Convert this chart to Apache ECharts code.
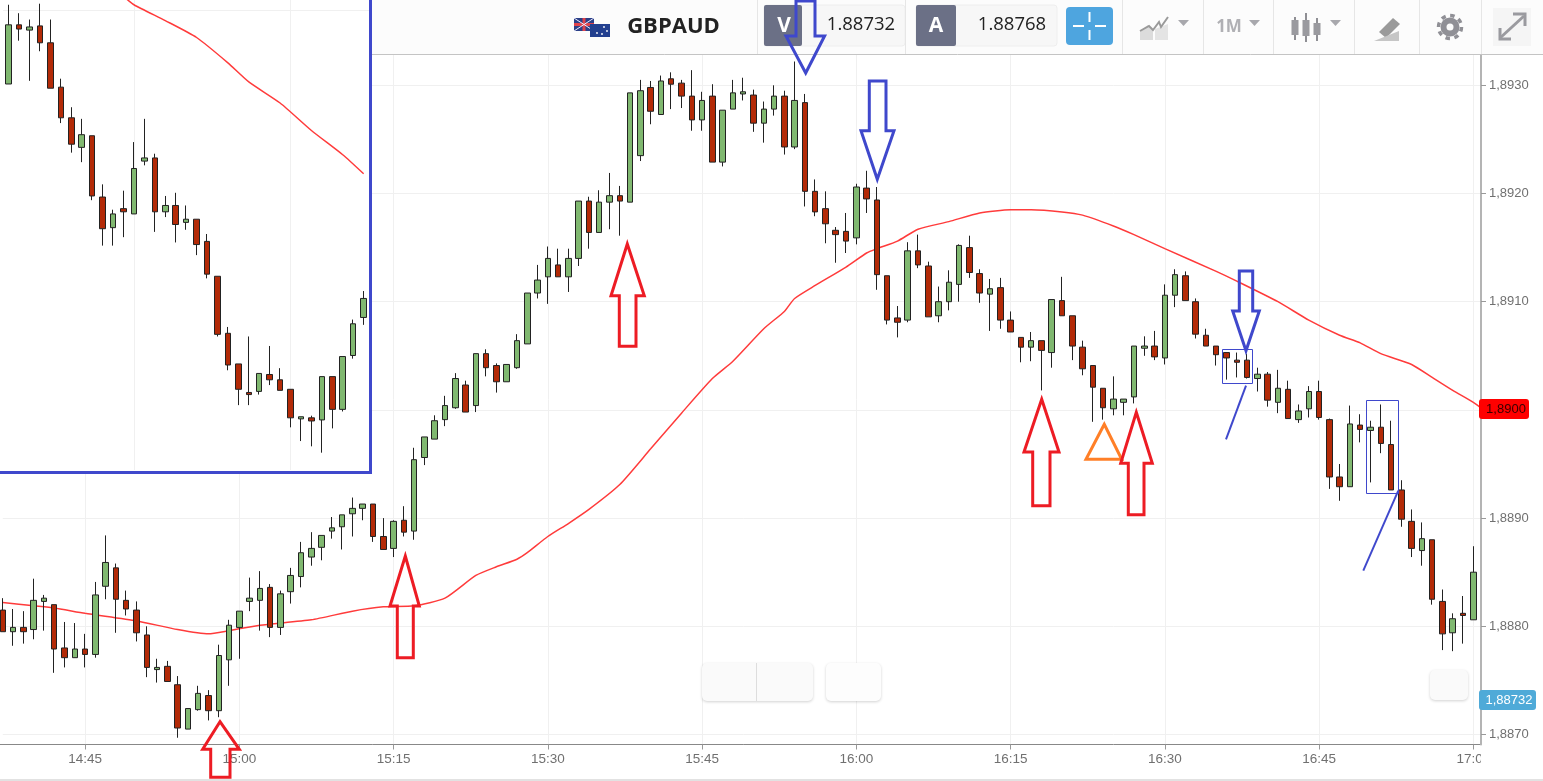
<!DOCTYPE html>
<html><head><meta charset="utf-8">
<style>html,body{margin:0;padding:0;background:#fff}#c{width:1543px;height:781px}</style>
<script src="https://cdn.jsdelivr.net/npm/echarts@6/dist/echarts.min.js"></script>
</head><body><div id="c"></div>
<script>
// ---- main chart: GBPAUD 1-minute candles, 14:37 .. 17:00 ----
const opens=[1.88815,1.88795,1.88799,1.88797,1.88823,1.88820,1.88780,1.88771,1.88779,1.88774,1.88837,1.88854,1.88824,1.88815,1.88792,1.88760,1.88763,1.88746,1.88705,1.88723,1.88736,1.88722,1.88769,1.88799,1.88823,1.88824,1.88836,1.88799,1.88832,1.88846,1.88864,1.88873,1.88888,1.88892,1.88904,1.88909,1.88913,1.88883,1.88872,1.88898,
1.88888,1.88956,1.88973,1.88991,1.89002,1.89023,1.89004,1.89052,1.89041,1.89026,1.89039,1.89061,1.89108,1.89123,1.89134,1.89123,1.89140,1.89193,1.89164,1.89192,1.89198,1.89192,1.89235,1.89298,1.89273,1.89306,1.89302,1.89290,1.89268,1.89290,1.89229,1.89278,1.89292,1.89291,1.89265,1.89278,1.89290,1.89243,1.89284,1.89202,
1.89186,1.89166,1.89165,1.89159,1.89205,1.89194,1.89124,1.89085,1.89083,1.89147,1.89133,1.89087,1.89100,1.89116,1.89150,1.89126,1.89107,1.89113,1.89083,1.89067,1.89058,1.89064,1.89053,1.89101,1.89087,1.89058,1.89041,1.89020,1.89001,1.89007,1.89012,1.89057,1.89059,1.89048,1.89106,1.89124,1.89100,1.89069,1.89059,1.89053,
1.89046,1.89046,1.89029,1.89033,1.89007,1.89019,1.88991,1.89001,1.89017,1.88991,1.88938,1.88929,1.88986,1.88981,1.88984,1.88968,1.88926,1.88897,1.88870,1.88880,1.88823,1.88794,1.88812,1.88806];
const closes=[1.88795,1.88799,1.88795,1.88824,1.88826,1.88779,1.88771,1.88779,1.88774,1.88829,1.88859,1.88825,1.88816,1.88794,1.88762,1.88762,1.88749,1.88706,1.88724,1.88738,1.88722,1.88773,1.88801,1.88814,1.88826,1.88835,1.88799,1.88830,1.88847,1.88868,1.88872,1.88884,1.88891,1.88903,1.88909,1.88913,1.88883,1.88871,1.88897,1.88887,
1.88954,1.88975,1.88990,1.89004,1.89029,1.88998,1.89052,1.89039,1.89026,1.89042,1.89064,1.89108,1.89120,1.89140,1.89123,1.89140,1.89193,1.89164,1.89192,1.89198,1.89193,1.89293,1.89295,1.89276,1.89304,1.89301,1.89290,1.89268,1.89286,1.89229,1.89277,1.89293,1.89294,1.89265,1.89278,1.89290,1.89243,1.89286,1.89202,1.89183,
1.89172,1.89162,1.89156,1.89206,1.89195,1.89125,1.89083,1.89081,1.89147,1.89134,1.89086,1.89100,1.89118,1.89152,1.89127,1.89108,1.89112,1.89083,1.89072,1.89058,1.89064,1.89055,1.89102,1.89087,1.89059,1.89038,1.89021,1.89002,1.89010,1.89010,1.89059,1.89059,1.89049,1.89106,1.89125,1.89101,1.89070,1.89059,1.89051,1.89048,
1.89044,1.89030,1.89033,1.89009,1.89020,1.88992,1.88999,1.89017,1.88993,1.88938,1.88929,1.88987,1.88982,1.88984,1.88969,1.88926,1.88899,1.88872,1.88881,1.88825,1.88793,1.88807,1.88810,1.88850];
const lows=[1.88795,1.88782,1.88784,1.88788,1.88796,1.88757,1.88762,1.88771,1.88762,1.88771,1.88825,1.88794,1.88810,1.88786,1.88753,1.88748,1.88749,1.88697,1.88705,1.88722,1.88713,1.88716,1.88745,1.88770,1.88814,1.88796,1.88790,1.88792,1.88821,1.88836,1.88856,1.88861,1.88881,1.88871,1.88883,1.88898,1.88878,1.88871,1.88864,1.88883,
1.88880,1.88949,1.88973,1.88985,1.89001,1.88998,1.88998,1.89031,1.89016,1.89026,1.89038,1.89061,1.89103,1.89098,1.89123,1.89109,1.89133,1.89149,1.89164,1.89167,1.89161,1.89192,1.89230,1.89264,1.89273,1.89278,1.89279,1.89258,1.89258,1.89229,1.89225,1.89278,1.89286,1.89257,1.89247,1.89272,1.89236,1.89241,1.89188,1.89179,
1.89154,1.89136,1.89145,1.89153,1.89182,1.89111,1.89079,1.89067,1.89081,1.89131,1.89086,1.89081,1.89092,1.89100,1.89122,1.89099,1.89073,1.89075,1.89072,1.89044,1.89045,1.89018,1.89039,1.89087,1.89046,1.89032,1.88989,1.88991,1.88995,1.88995,1.89006,1.89050,1.89046,1.89042,1.89095,1.89101,1.89066,1.89059,1.89041,1.89028,
1.89030,1.89029,1.89017,1.89003,1.88997,1.88992,1.88988,1.88993,1.88991,1.88927,1.88916,1.88929,1.88970,1.88933,1.88960,1.88926,1.88892,1.88864,1.88856,1.88820,1.88778,1.88777,1.88784,1.88806];
const highs=[1.88826,1.88816,1.88814,1.88844,1.88829,1.88820,1.88804,1.88803,1.88793,1.88841,1.88884,1.88858,1.88833,1.88823,1.88800,1.88770,1.88768,1.88754,1.88724,1.88745,1.88741,1.88783,1.88806,1.88814,1.88845,1.88851,1.88839,1.88833,1.88854,1.88878,1.88887,1.88884,1.88901,1.88903,1.88919,1.88913,1.88913,1.88900,1.88898,1.88911,
1.88965,1.88975,1.88995,1.89013,1.89034,1.89027,1.89052,1.89056,1.89043,1.89042,1.89070,1.89108,1.89134,1.89151,1.89149,1.89149,1.89193,1.89197,1.89203,1.89219,1.89207,1.89293,1.89305,1.89304,1.89309,1.89312,1.89305,1.89314,1.89294,1.89301,1.89277,1.89305,1.89307,1.89296,1.89285,1.89300,1.89295,1.89322,1.89292,1.89213,
1.89202,1.89169,1.89182,1.89209,1.89221,1.89206,1.89124,1.89096,1.89155,1.89162,1.89137,1.89114,1.89129,1.89153,1.89161,1.89130,1.89121,1.89122,1.89091,1.89067,1.89072,1.89064,1.89102,1.89123,1.89087,1.89064,1.89041,1.89020,1.89031,1.89010,1.89059,1.89068,1.89073,1.89116,1.89130,1.89128,1.89103,1.89075,1.89059,1.89053,
1.89053,1.89052,1.89039,1.89035,1.89037,1.89027,1.89005,1.89022,1.89027,1.88992,1.88950,1.89004,1.88996,1.88990,1.89005,1.88990,1.88935,1.88908,1.88896,1.88880,1.88834,1.88812,1.88828,1.88874];
// moving average, read at these minutes
const maTimes=['14:37','14:40','14:42','14:45','14:50','14:54','14:57','14:59','15:02','15:07','15:11','15:14','15:17','15:20','15:23','15:25','15:27','15:28','15:30','15:32','15:34','15:37','15:40','15:43','15:46','15:48','15:51','15:53','15:54','15:56','15:59','16:01','16:02','16:04','16:06','16:09','16:12','16:15','16:17','16:20','16:22','16:25','16:27','16:30','16:35','16:37','16:41','16:44','16:47','16:49','16:51','16:54','16:56','16:58','17:00','17:01'];
const maValues=[1.88822,1.88819,1.88817,1.88812,1.88805,1.88797,1.88793,1.88796,1.88801,1.88806,1.88814,1.88818,1.88819,1.88826,1.88847,1.88855,1.88862,1.88868,1.88883,1.88895,1.88908,1.88931,1.88964,1.88997,1.89029,1.89045,1.89075,1.89091,1.89103,1.89115,1.89132,1.89145,1.89149,1.89156,1.89167,1.89174,1.89182,1.89185,1.89185,1.89183,1.89180,1.89170,1.89162,1.89149,1.89128,1.89119,1.89100,1.89083,1.89069,1.89062,1.89052,1.89042,1.89030,1.89018,1.89007,1.89000];
const yTicks=[1.893,1.892,1.891,1.89,1.889,1.888,1.887];
// ---- inset chart ----
const insetOpens=[1.89930,1.89986,1.89981,1.89985,1.89969,1.89927,1.89898,1.89870,1.89881,1.89823,1.89794,1.89812,1.89807,1.89857,1.89860,1.89809,1.89815,1.89799,1.89802,1.89781,1.89748,1.89694,1.89665,1.89638,1.89639,1.89655,1.89650,1.89641,1.89613,1.89614,1.89612,1.89653,1.89622,1.89673,1.89709];
const insetCloses=[1.89986,1.89982,1.89984,1.89969,1.89926,1.89898,1.89873,1.89882,1.89824,1.89793,1.89807,1.89809,1.89850,1.89860,1.89809,1.89815,1.89797,1.89802,1.89778,1.89750,1.89693,1.89664,1.89641,1.89636,1.89656,1.89650,1.89640,1.89614,1.89615,1.89611,1.89653,1.89622,1.89672,1.89703,1.89727];
const insetLows=[1.89930,1.89971,1.89933,1.89961,1.89926,1.89893,1.89865,1.89856,1.89820,1.89777,1.89777,1.89785,1.89807,1.89853,1.89790,1.89804,1.89780,1.89792,1.89768,1.89746,1.89691,1.89659,1.89626,1.89626,1.89636,1.89645,1.89640,1.89605,1.89592,1.89587,1.89581,1.89604,1.89620,1.89670,1.89702];
const insetHighs=[1.90005,1.89997,1.89991,1.90006,1.89991,1.89935,1.89908,1.89897,1.89881,1.89835,1.89811,1.89829,1.89875,1.89897,1.89864,1.89824,1.89827,1.89815,1.89802,1.89788,1.89748,1.89700,1.89665,1.89691,1.89656,1.89682,1.89661,1.89641,1.89615,1.89616,1.89653,1.89653,1.89672,1.89707,1.89734];
const insetMaSlots=[11,12,15,18,21,23,26,29,32,34];
const insetMaValues=[1.90013,1.90005,1.89990,1.89974,1.89950,1.89932,1.89912,1.89886,1.89863,1.89845];
const insetLevels=[1.900,1.899,1.898,1.897,1.896];
const insetVerticalSlots=[12,27];

// ---- build ----
const timeLabels=[];
for(let m=14*60+37;m<=17*60+1;m++){timeLabels.push(Math.floor(m/60)+':'+String(m%60).padStart(2,'0'));}
const isQuarter=(i,l)=>l.endsWith(':00')||l.endsWith(':15')||l.endsWith(':30')||l.endsWith(':45');
const empty=['-','-','-','-'];
const mainCandles=[...opens.map((o,i)=>[o,closes[i],lows[i],highs[i]]),empty];
const maData=maTimes.map((t,i)=>[timeLabels.indexOf(t),maValues[i]]);
const insetSlots=insetOpens.map((_,i)=>String(i));
const insetCandles=insetOpens.map((o,i)=>[o,insetCloses[i],insetLows[i],insetHighs[i]]);
const insetMa=insetMaSlots.map((s,i)=>[s,insetMaValues[i]]);

const UP='#80b870',DOWN='#b32a07',EDGE='#222222',RED='#ed1c24',BLUE='#3f48cc',ORANGE='#ff7f27',GREY='#a8a8ad';
const candleStyle={color:UP,color0:DOWN,borderColor:EDGE,borderColor0:EDGE,borderWidth:1};

// ---- page furniture and hand-drawn annotations (screen positions) ----
const g=[];
const poly=(pts,stroke,w,z=20,closed=true)=>g.push({type:closed?'polygon':'polyline',z,silent:true,shape:{points:pts},style:{fill:closed?'rgba(0,0,0,0)':null,stroke,lineWidth:w,lineJoin:'miter'}});
const upArrow=(cx,tip,l,r,base,sl,sr,bot)=>poly([[cx,tip],[r,base],[sr,base],[sr,bot],[sl,bot],[sl,base],[l,base]],RED,3);
const downArrow=(cx,tip,l,r,base,sl,sr,top,color)=>poly([[cx,tip],[r,base],[sr,base],[sr,top],[sl,top],[sl,base],[l,base]],color,3);
const rect=(x,y,w,h,fill,z=6,r=0,extra={})=>g.push({type:'rect',z,silent:true,shape:{x,y,width:w,height:h,r},style:Object.assign({fill},extra)});
const text=(x,y,t,font,fill,z=8,align='center')=>g.push({type:'text',z,silent:true,x,y,style:{text:t,font,fill,textAlign:align,textVerticalAlign:'middle'}});
const line=(x1,y1,x2,y2,stroke,w=1,z=7)=>g.push({type:'line',z,silent:true,shape:{x1,y1,x2,y2},style:{stroke,lineWidth:w}});

// right panel and footer
rect(1481,55,62,726,'#ffffff',1);
rect(0,779,1543,2,'#e2e2e2',6);
line(0,744.5,3,744.5,'#888',1,3);
// header
rect(372,0,1171,54,'#fcfcfc',6);
line(372,54.5,1543,54.5,'#c4c4c4',1);
[757,905,1122,1203,1273,1354,1419,1481].forEach(x=>line(x+.5,0,x+.5,54,'#e6e6e6',1));
// flag
rect(574,18,20,13,'#2b3f87',7);line(574,24.5,594,24.5,'#e0434b',3,8);line(584,18,584,31,'#e0434b',3,8);line(574,18,594,31,'#eef',1,8);line(594,18,574,31,'#eef',1,8);
rect(590,24,20,13,'#23408f',8);
[[597,33],[604,27],[607,31],[602,34]].forEach(([cx,cy])=>g.push({type:'circle',z:9,silent:true,shape:{cx,cy,r:.9},style:{fill:'#fff'}}));
text(673.5,27,'GBPAUD','bold 22px "Open Sans"','#222');
// quotes
rect(764,5,141,41,'#f7f7f7',6,3,{stroke:'#eeeeee'});rect(764,5,38,41,'#6b7086',7,2);
text(784,26,'V','bold 21px "Open Sans"','#fff');text(861,25,'1.88732','18.5px "Open Sans"','#222');
rect(916,5,141,41,'#f7f7f7',6,3,{stroke:'#eeeeee'});rect(916,5,40,41,'#6b7086',7,2);
text(936,26,'A','bold 21px "Open Sans"','#fff');text(1012,25,'1.88768','18.5px "Open Sans"','#222');
// crosshair button
rect(1066,7,47,38,'#4ea5df',7,4);
line(1089.5,12,1089.5,22,'#fff',2,8);line(1089.5,30,1089.5,40,'#fff',2,8);line(1073,26,1084,26,'#fff',2,8);line(1095,26,1106,26,'#fff',2,8);
// toolbar icons
g.push({type:'polygon',z:8,silent:true,shape:{points:[[1140,40],[1140,31],[1148,25],[1153,29],[1153,40]]},style:{fill:'#dcdcdc'}});
g.push({type:'polygon',z:8,silent:true,shape:{points:[[1155,40],[1155,29],[1168,24],[1168,40]]},style:{fill:'#e4e4e4'}});
poly([[1140,31],[1149,26],[1153,30],[1159,22],[1161,27],[1168,17]],'#9a9a9a',2,8,false);
const tri=(x)=>g.push({type:'polygon',z:8,silent:true,shape:{points:[[x,20],[x+11,20],[x+5.5,26]]},style:{fill:GREY}});
tri(1178);tri(1249);tri(1330);
text(1229,27,'1M','bold 17px "Open Sans"','#b0b0b4');
[[1295,17,40,20,15],[1306,13,42,20,16],[1317,18,41,23,12]].forEach(([x,t,b,top,h])=>{line(x,t,x,b,'#8f8f94',2,8);rect(x-3.5,top,7,h,'#9a9a9f',8);});
g.push({type:'polygon',z:8,silent:true,shape:{points:[[1379,32],[1393,18],[1400,24],[1386,38]]},style:{fill:'#9a9a9a'}});
g.push({type:'polygon',z:8,silent:true,shape:{points:[[1374,41],[1399,41],[1399,31]]},style:{fill:'#c6c6c6'}});
g.push({type:'circle',z:8,silent:true,shape:{cx:1450,cy:27,r:9.5},style:{fill:'#909096'}});
g.push({type:'circle',z:8,silent:true,shape:{cx:1450,cy:27,r:11.5},style:{fill:'none',stroke:'#909096',lineWidth:3.5,lineDash:[4.5,4.5]}});
g.push({type:'circle',z:9,silent:true,shape:{cx:1450,cy:27,r:3.5},style:{fill:'#fcfcfc'}});
rect(1493,8,38,38,'#f5f5f5',7);
line(1500,38,1524,16,'#9a9a9f',3,8);poly([[1500,28],[1500,39],[1511,39]],'#9a9a9f',3,8,false);poly([[1513,14],[1525,14],[1525,26]],'#9a9a9f',3,8,false);
// zoom buttons on the chart
const shadow={shadowBlur:3,shadowColor:'rgba(0,0,0,.18)',shadowOffsetY:1};
rect(702,663,111,38,'#fafafa',3,5,shadow);line(756.5,663,756.5,701,'#dddddd',1,4);
rect(826,663,55,38,'#fdfdfd',3,5,shadow);rect(1430,670,38,30,'#fafafa',3,5,shadow);
// price tags
rect(1479,399,50,20,'#ff0000',9,3);text(1506,409.5,'1,8900','13px "Liberation Sans"','#3a0000',10);
rect(1479,690,57,20,'#4faad8',9,3);text(1509,700.5,'1,88732','13px "Liberation Sans"','#fff',10);
// inset frame
rect(0,0,369,471,'#ffffff',3);
poly([[370.5,-3],[370.5,472.5],[-3,472.5]],BLUE,3,12,false);
// annotations
upArrow(220,721.7,202.7,239.3,749.3,210.7,230,777.3);
upArrow(405.3,556,390,419.3,606,397.3,413.3,657.7);
upArrow(627.3,244,611,644.3,295.7,619.3,636,346.3);
upArrow(1041.7,399.3,1024,1059,452,1032.7,1050,505.7);
poly([[1104.3,424.3],[1086,459.3],[1121.7,459.3]],ORANGE,3);
upArrow(1136.3,412.3,1120.7,1152.3,463.3,1128.3,1144,514.7);
downArrow(805.7,73,786,824.6,36,796,815,1,BLUE);
downArrow(877.3,179.3,861,894,130.7,869.3,886,81,BLUE);
downArrow(1246,350.7,1232.7,1259.3,311,1239.3,1252.7,271,BLUE);
g.push({type:'rect',z:20,silent:true,shape:{x:1222.5,y:349.5,width:30,height:34},style:{fill:'none',stroke:BLUE,lineWidth:1}});
g.push({type:'rect',z:20,silent:true,shape:{x:1366.5,y:400.5,width:32,height:93},style:{fill:'none',stroke:BLUE,lineWidth:1}});
line(1246,385.7,1226,439.3,BLUE,2,20);
line(1398.3,490.7,1363.3,570.7,BLUE,2,20);

const chart=echarts.init(document.getElementById('c'),null,{renderer:'canvas'});
chart.setOption({
  animation:false,backgroundColor:'#ffffff',
  grid:[
    {left:2.8,width:1480.8,top:52.84,height:681.66},   // price scale: 1.8933 .. 1.8870
    {left:3.45,top:0,width:365.4,height:470},          // inset
    {left:2.8,width:1480.8,top:54.5,height:690}        // full plot frame: vertical grid lines and right edge
  ],
  xAxis:[
    {type:'category',gridIndex:0,data:timeLabels,boundaryGap:false,position:'bottom',offset:10,z:0,
     axisLine:{onZero:false,lineStyle:{color:'#888',width:1}},
     axisTick:{interval:isQuarter,length:5,lineStyle:{color:'#999'}},
     axisLabel:{interval:isQuarter,color:'#707070',fontFamily:'Liberation Sans',fontSize:13.5,margin:8,hideOverlap:false},
     splitLine:{show:false}},
    {type:'category',gridIndex:1,data:insetSlots,show:false},
    {type:'category',gridIndex:2,data:timeLabels,boundaryGap:false,position:'top',z:0,
     axisLine:{show:false},axisTick:{show:false},axisLabel:{show:false},
     splitLine:{show:true,interval:isQuarter,lineStyle:{color:'#f0f0f0',width:1}}}
  ],
  yAxis:[
    {type:'value',gridIndex:0,position:'right',offset:-2.6,z:2,min:1.887,max:1.8933,interval:0.001,
     axisLine:{show:false,onZero:false},
     axisTick:{show:true,length:5,lineStyle:{color:'#999'}},
     axisLabel:{color:'#707070',fontFamily:'Liberation Sans',fontSize:13,margin:8,showMaxLabel:false,
       formatter:v=>yTicks.some(t=>Math.abs(t-v)<1e-6)?v.toFixed(4).replace('.',','):''},
     splitLine:{show:true,lineStyle:{color:'#f0f0f0',width:1}}},
    {type:'value',gridIndex:1,show:false,min:1.895646,max:1.900095},
    {type:'value',gridIndex:2,position:'right',offset:-2.6,z:2,min:0,max:1,
     axisLine:{show:true,onZero:false,lineStyle:{color:'#b4b4b4',width:2}},
     axisTick:{show:false},axisLabel:{show:false},splitLine:{show:false}}
  ],
  series:[
    {type:'candlestick',xAxisIndex:0,yAxisIndex:0,z:2,data:mainCandles,barWidth:6,clip:false,itemStyle:candleStyle,silent:true},
    {type:'line',xAxisIndex:0,yAxisIndex:0,z:2,data:maData,showSymbol:false,symbol:'none',smooth:0.2,lineStyle:{color:'#ff3b3b',width:1.5},silent:true},
    {type:'line',xAxisIndex:1,yAxisIndex:1,z:4,data:[],symbol:'none',silent:true,
     markLine:{silent:true,symbol:'none',label:{show:false},animation:false,lineStyle:{color:'#f0f0f0',width:1,type:'solid'},
       data:[...insetLevels.map(v=>({yAxis:v})),...insetVerticalSlots.map(s=>({xAxis:String(s)}))]}},
    {type:'candlestick',xAxisIndex:1,yAxisIndex:1,z:5,data:insetCandles,barWidth:6,itemStyle:candleStyle,silent:true},
    {type:'line',xAxisIndex:1,yAxisIndex:1,z:5,data:insetMa,showSymbol:false,symbol:'none',smooth:0.2,lineStyle:{color:'#ff3b3b',width:1.5},silent:true}
  ],
  graphic:{elements:g}
});
</script></body></html>
